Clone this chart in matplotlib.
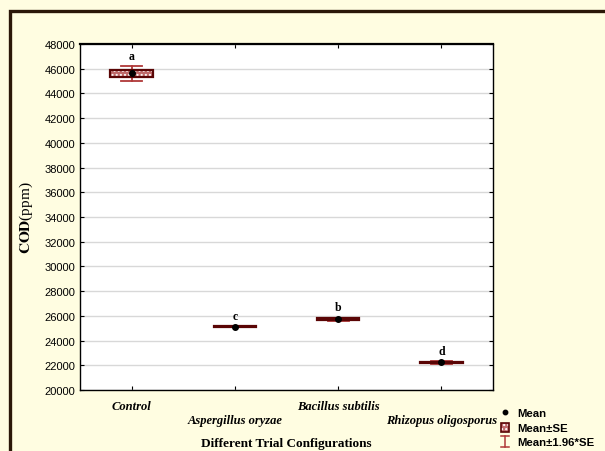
import matplotlib
matplotlib.use("Agg")
import matplotlib.pyplot as plt
from matplotlib.patches import Rectangle
from matplotlib.lines import Line2D
import numpy as np

categories = ["Control", "Aspergillus oryzae", "Bacillus subtilis", "Rhizopus oligosporus"]
means = [45620, 25130, 25720, 22230]
se = [300, 30, 70, 60]
letters = ["a", "c", "b", "d"]
yticks = list(range(20000, 48001, 2000))

W, H = 605, 452
bg = "#FFFDE1"
box_face = "#C06A6A"
box_edge = "#5A0505"
whisk = "#B03838"

plt.rcParams["mathtext.fontset"] = "stix"
fig = plt.figure(figsize=(W / 100, H / 100), dpi=100)
fig.patch.set_facecolor(bg)

def fx(px):
    return px / W

def fy(py):
    return 1 - py / H

# outer frame
fig.add_artist(Rectangle((fx(9.5), fy(500)), 1.2, fy(11.5) - fy(500), transform=fig.transFigure,
                         fill=False, edgecolor="#2B1708", linewidth=2.4))

ax = fig.add_axes([fx(80), fy(391), fx(493) - fx(80), fy(45) - fy(391)])
ax.set_facecolor("white")
ax.set_xlim(0.5, 4.5)
ax.set_ylim(20000, 48000)
ax.set_yticks(yticks)
ax.set_yticklabels([str(v) for v in yticks], fontsize=8, family="Liberation Sans")
ax.grid(axis="y", color="#D8D8D8", linewidth=1.0)
ax.set_axisbelow(True)

x = np.arange(1, len(categories) + 1)
bw = 0.41
cw = 0.205
for xi, m, s, L in zip(x, means, se, letters):
    w = 1.96 * s
    ax.plot([xi, xi], [m - w, m + w], color=whisk, lw=1.3, zorder=3)
    ax.plot([xi - cw / 2, xi + cw / 2], [m + w, m + w], color=whisk, lw=1.3, zorder=3)
    ax.plot([xi - cw / 2, xi + cw / 2], [m - w, m - w], color=whisk, lw=1.3, zorder=3)
    ax.add_patch(Rectangle((xi - bw / 2, m - s), bw, 2 * s, facecolor=box_face,
                           edgecolor="white", hatch="....", linewidth=0, zorder=4))
    ax.add_patch(Rectangle((xi - bw / 2, m - s), bw, 2 * s, facecolor="none",
                           edgecolor=box_edge, linewidth=1.6, zorder=5))
    ax.plot([xi], [m], marker="o", color="black", markersize=4, zorder=6)
    ax.annotate(L, (xi, m + w), xytext=(0, 3), textcoords="offset points",
                ha="center", va="bottom", fontsize=8.5, fontweight="bold",
                family="Liberation Serif")

ax.set_xticks(x[::2])
ax.set_xticklabels(categories[::2], fontsize=9, fontweight="bold", style="italic",
                   family="Liberation Serif")
ax.set_xticks(x[1::2], minor=True)
ax.set_xticklabels(categories[1::2], minor=True, fontsize=9, fontweight="bold",
                   style="italic", family="Liberation Serif")
ax.tick_params(axis="x", which="major", pad=7)
ax.tick_params(axis="x", which="minor", pad=17)
ax.tick_params(which="both", direction="in", length=3, top=True, right=True, width=0.8)
ax.tick_params(axis="x", which="minor", length=3)
for sp in ax.spines.values():
    sp.set_linewidth(1.0)
ax.spines["top"].set_linewidth(1.6)

ax.set_xlabel("Different Trial Configurations", fontsize=9.5, fontweight="bold",
              family="Liberation Serif")
ax.xaxis.set_label_coords(0.5, -0.135)
ax.set_ylabel(r"$\mathbf{COD}$(ppm)", fontsize=11, family="Liberation Serif")
ax.yaxis.set_label_coords(-0.108, 0.5)

# legend (manual)
lx, tx = 505, 517
fig.add_artist(Line2D([fx(lx)], [fy(413)], marker="o", color="black", markersize=3.2,
                      transform=fig.transFigure))
fig.add_artist(Rectangle((fx(lx - 4), fy(433)), fx(8), fy(424) - fy(433), transform=fig.transFigure,
                         facecolor=box_face, edgecolor="white", hatch="....", linewidth=0))
fig.add_artist(Rectangle((fx(lx - 4), fy(433)), fx(8), fy(424) - fy(433), transform=fig.transFigure,
                         facecolor="none", edgecolor=box_edge, linewidth=1.2))
fig.add_artist(Line2D([fx(lx), fx(lx)], [fy(437), fy(448)], color=whisk, lw=1.1,
                      transform=fig.transFigure))
fig.add_artist(Line2D([fx(lx - 4), fx(lx + 4)], [fy(437), fy(437)], color=whisk, lw=1.1,
                      transform=fig.transFigure))
fig.add_artist(Line2D([fx(lx - 4), fx(lx + 4)], [fy(448), fy(448)], color=whisk, lw=1.1,
                      transform=fig.transFigure))
for t, py in [("Mean", 414), ("Mean±SE", 429), ("Mean±1.96*SE", 443)]:
    fig.text(fx(tx), fy(py), t, fontsize=8.2, fontweight="bold", family="Liberation Sans",
             va="center", ha="left")

fig.savefig("out.png", dpi=100, facecolor=bg)
